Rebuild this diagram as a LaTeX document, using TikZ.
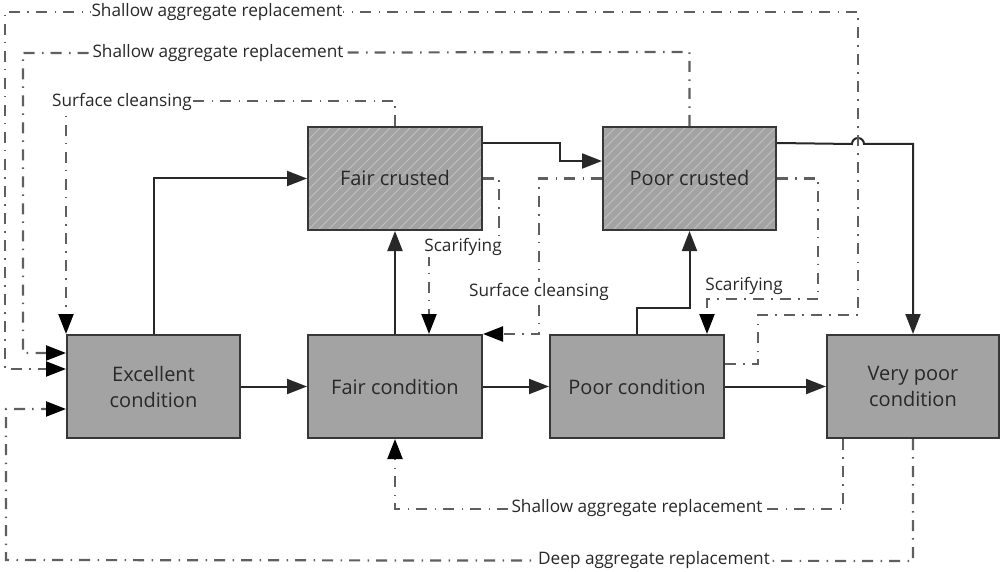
\documentclass[tikz,border=0pt]{standalone}
\usepackage{fontspec}
\setmainfont{Open Sans}
\usetikzlibrary{arrows.meta}
\definecolor{boxfill}{RGB}{163,163,163}
\definecolor{hatchc}{RGB}{192,192,192}
\definecolor{boxline}{RGB}{55,55,55}
\definecolor{flowc}{RGB}{40,40,40}
\definecolor{dashc}{RGB}{95,95,95}
\definecolor{txtc}{RGB}{40,40,40}
\begin{document}
\begin{tikzpicture}[x=1pt,y=-1pt,
  box/.style={draw=boxline,line width=2pt,fill=boxfill,minimum height=103pt,
    align=center,font=\fontsize{20}{26}\selectfont,text=txtc,inner sep=2pt},
  crust/.style={box,path picture={\foreach \k in {-12,...,19}{\draw[hatchc,line width=1pt]
    ([xshift=\k*10pt]path picture bounding box.south west) -- ++(115,-115);}}},
  flow/.style={draw=flowc,line width=2pt,-{Triangle[length=20pt,width=15pt,flowc]}},
  maint/.style={draw=dashc,line width=2.2pt,dash pattern=on 11pt off 7pt on 1.5pt off 7.5pt,
    -{Triangle[length=20pt,width=15pt,black]}},
  lab/.style={font=\fontsize{17.2}{20}\selectfont,text=txtc,fill=white,inner sep=1pt}]
\useasboundingbox (0,0) rectangle (1001,572);
% boxes
\node[box,minimum width=173pt] (ex) at (153.5,386.5) {Excellent\\condition};
\node[box,minimum width=174pt] (fcond) at (395,386.5) {Fair condition};
\node[box,minimum width=174pt] (pc) at (637,386.5) {Poor condition};
\node[box,minimum width=172pt] (vp) at (913,386.5) {Very poor\\condition};
\node[crust,minimum width=174pt] (fcr) at (395,178.5) {Fair crusted};
\node[crust,minimum width=173pt] (pcr) at (689.5,178.5) {Poor crusted};
% deterioration
\draw[flow] (ex.east) -- (fcond.west);
\draw[flow] (fcond.east) -- (pc.west);
\draw[flow] (pc.east) -- (vp.west);
\draw[flow] (ex.north) |- (fcr.west);
\draw[flow] (fcond.north) -- (fcr.south);
\draw[flow] ([yshift=-17pt]fcr.north east) -- ++(77,0) |- ([yshift=-35pt]pcr.north west);
\draw[flow] (pc.north) -- ++(0,-26) -| (pcr.south);
\draw[flow] ([yshift=-17pt]pcr.north east) -- (852,144)
  arc[start angle=180,end angle=360,radius=6] -| (vp.north);
% maintenance
\draw[maint] (fcr.north) -- ++(0,-25) -| (ex.north west);
\draw[maint] (pcr.north) -- ++(0,-74) -- (23,53) |- ([yshift=33.5pt]ex.west);
\draw[maint] ([yshift=22.5pt]pc.east) -- ++(33,0) -- ++(0,-49) -- (858,315)
  -- (858,12) -- (5,12) |- ([yshift=17.5pt]ex.west);
\draw[maint] (vp.south) -- ++(0,122) -- (6,560) |- ([yshift=-22.5pt]ex.west);
\draw[maint] ([xshift=17pt]vp.south west) -- ++(0,70) -| (fcond.south);
\draw[maint] (fcr.east) -- ++(16,0) -- ++(0,68.5) -| ([xshift=34pt]fcond.north);
\draw[maint] (pcr.west) -- ++(-63,0) |- (fcond.north east);
\draw[maint] (pcr.east) -- ++(41,0) -- ++(0,120.5) -| ([xshift=70pt]pc.north);
% labels
\node[lab] (l1) at (217,12) {Shallow aggregate replacement};
\node[lab] (l2) at (218,53) {Shallow aggregate replacement};
\node[lab] (l3) at (122,102) {Surface cleansing};
\node[lab] (l4) at (463,247) {Scarifying};
\node[lab] (l5) at (539,292) {Surface cleansing};
\node[lab,fill=none] (l6) at (744,286) {Scarifying};
\node[lab] (l7) at (637,508) {Shallow aggregate replacement};
\node[lab] (l8) at (654,560) {Deep aggregate replacement};
\end{tikzpicture}
\end{document}
